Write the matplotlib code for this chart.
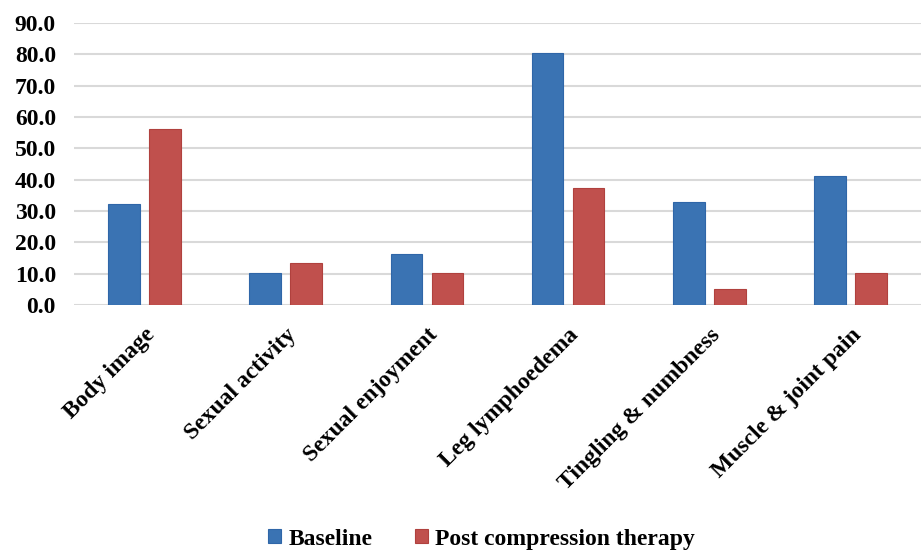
import matplotlib
matplotlib.use("Agg")
import matplotlib.pyplot as plt
import numpy as np

categories = ["Body image", "Sexual activity", "Sexual enjoyment", "Leg lymphoedema",
              "Tingling & numbness", "Muscle & joint pain"]
baseline = [32.2, 10.3, 16.2, 80.5, 32.9, 41.3]
post = [56.1, 13.5, 10.3, 37.4, 5.2, 10.3]
yticks = [0, 10, 20, 30, 40, 50, 60, 70, 80, 90]

plt.rcParams['font.family'] = ['Liberation Serif', 'DejaVu Serif']
plt.rcParams['font.weight'] = 'bold'
FS = 17

fig = plt.figure(figsize=(9.21, 5.51), dpi=100)
ax = fig.add_axes([74/921, 1-305/551, (921-74)/921, (305-23)/551])

x = np.arange(len(categories))
w = 0.225
gap = 0.065
ax.bar(x - (w+gap)/2, baseline, w, color="#3A73B3", edgecolor="#2F66A8", linewidth=0.8,
       label="Baseline", zorder=3)
ax.bar(x + (w+gap)/2, post, w, color="#C0504D", edgecolor="#B0413E", linewidth=0.8,
       label="Post compression therapy", zorder=3)

ax.set_xlim(-0.5, len(categories)-0.5)
ax.set_ylim(0, 90)
ax.set_yticks(yticks)
ax.set_yticklabels([f"{v:.1f}" for v in yticks], fontsize=FS, fontweight='bold')
ax.yaxis.grid(True, color="#d9d9d9", linewidth=1.5, zorder=0)
ax.set_axisbelow(True)
for s in ax.spines.values():
    s.set_visible(False)
ax.tick_params(axis='both', length=0)
ax.tick_params(axis='y', pad=13)
ax.set_xticks(x)
ax.set_xticklabels(categories, rotation=45, ha='right', rotation_mode='anchor',
                   fontsize=FS, fontweight='bold')
ax.tick_params(axis='x', pad=14)

leg = fig.legend(loc='lower center', bbox_to_anchor=(0.523, -0.036), ncol=2, frameon=False,
                 prop={'size': FS, 'weight': 'bold'}, handlelength=0.55, handleheight=0.55,
                 handletextpad=0.3, columnspacing=1.8)

fig.savefig("out.png", dpi=100)
